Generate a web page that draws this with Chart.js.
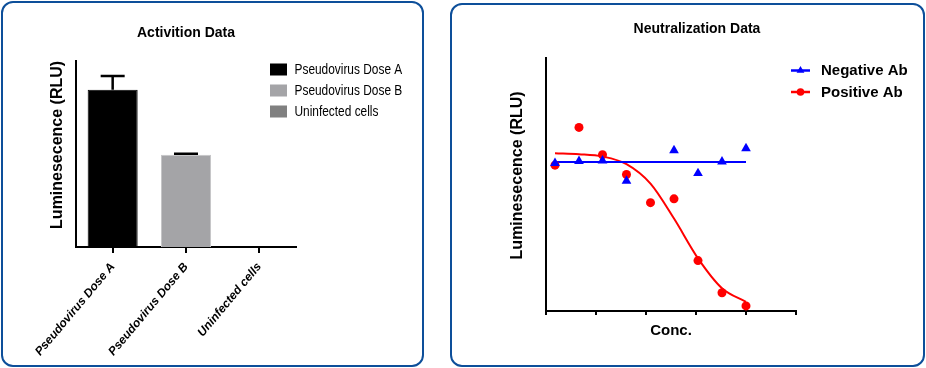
<!DOCTYPE html>
<html>
<head>
<meta charset="utf-8">
<script src="https://cdn.jsdelivr.net/npm/chart.js@4.4.1/dist/chart.umd.min.js"></script>
<style>
  html, body { margin: 0; padding: 0; background: #ffffff; }
  body { width: 926px; height: 368px; position: relative; overflow: hidden; }
  .panel { position: absolute; box-sizing: border-box; border: 2px solid #0d4f9a; border-radius: 12px; background: #ffffff; }
  #panelL { left: 1px; top: 1px; width: 423px; height: 366px; }
  #panelR { left: 450px; top: 3px; width: 475px; height: 364px; }
  canvas { position: absolute; top: 0; }
  #chartL { left: 0; }
  #chartR { left: 440px; }
</style>
</head>
<body>
<div class="panel" id="panelL"></div>
<div class="panel" id="panelR"></div>
<canvas id="chartL" width="440" height="368"></canvas>
<canvas id="chartR" width="486" height="368"></canvas>
<script>
// ---------- Activation data (bar chart) ----------
const categories = ['Pseudovirus Dose A', 'Pseudovirus Dose B', 'Uninfected cells'];
const meanRLU = [84.4, 49.5, 0];
const errorRLU = [7.5, 0.6, 0];
const barColors = ['#000000', '#a4a4a7', '#808080'];
const barBorders = ['#000000', '#c6c6c8', '#808080'];

// ---------- Neutralization data (scatter + fitted curves) ----------
const concX = [0.18, 0.66, 1.13, 1.61, 2.09, 2.56, 3.04, 3.52, 4.0];
const negativeAb = [58.4, 59.2, 59.4, 51.4, null, 63.4, 54.4, 59.0, 64.2];
const positiveAb = [57.6, 72.5, 61.7, 53.9, 42.8, 44.3, 19.9, 7.2, 2.0];
const negativeFitX = [0.18, 4.0];
const negativeFitY = [58.8, 58.8];
const positiveFitX = [0.18, 0.66, 1.13, 1.61, 2.09, 2.56, 3.04, 3.52, 4.0];
const positiveFitY = [62.3, 61.9, 61.0, 58.0, 50.3, 36.5, 20.8, 9.0, 3.6];

Chart.defaults.font.family = "Arial, 'Liberation Sans', Helvetica, sans-serif";
Chart.defaults.color = '#000000';
Chart.defaults.devicePixelRatio = 1;

// error bar plugin (uses the y scale of the chart)
const errorBarPlugin = {
  id: 'errorBars',
  afterDatasetsDraw(chart, args, opts) {
    const ctx = chart.ctx;
    const yScale = chart.scales.y;
    chart.data.datasets.forEach((ds, di) => {
      if (!ds.errors) return;
      const meta = chart.getDatasetMeta(di);
      meta.data.forEach((bar, i) => {
        const v = ds.data[i];
        const e = ds.errors[i];
        if (v == null || !e) return;
        const yTop = yScale.getPixelForValue(v + e);
        ctx.save();
        ctx.strokeStyle = '#000000';
        ctx.lineWidth = opts.lineWidth || 2;
        ctx.beginPath();
        ctx.moveTo(bar.x, bar.y);
        ctx.lineTo(bar.x, yTop);
        ctx.moveTo(bar.x - opts.capWidth / 2, yTop);
        ctx.lineTo(bar.x + opts.capWidth / 2, yTop);
        ctx.stroke();
        ctx.restore();
      });
    });
  }
};

// shifts an axis title along its axis (the reference centres it a little above the plot centre)
const titleShiftPlugin = {
  id: 'titleShift',
  afterLayout(chart, args, opts) {
    const shifts = (opts && opts.shift) || {};
    Object.keys(shifts).forEach((id) => {
      const sc = chart.scales[id];
      if (!sc || sc._titleShiftWrapped) return;
      const orig = sc.drawTitle.bind(sc);
      sc.drawTitle = function () {
        const t = this.top, b = this.bottom;
        this.top += shifts[id];
        this.bottom += shifts[id];
        orig();
        this.top = t;
        this.bottom = b;
      };
      sc._titleShiftWrapped = true;
    });
  }
};

// legend drawn at a fixed place
const placedLegendPlugin = {
  id: 'placedLegend',
  afterDraw(chart, args, o) {
    if (!o || !o.kind) return;
    const ctx = chart.ctx;
    ctx.save();
    let narrowOK = false;
    if (o.narrowFont) {
      ctx.font = '15px "Liberation Sans Narrow", monospace';
      const a = ctx.measureText('Pseudovirus Dose A').width;
      ctx.font = '15px monospace';
      const b = ctx.measureText('Pseudovirus Dose A').width;
      narrowOK = Math.abs(a - b) > 1;
    }
    o.datasets.forEach((di, row) => {
      const ds = chart.data.datasets[di];
      const cy = o.y + row * o.rowGap;
      if (o.kind === 'box') {
        ctx.fillStyle = ds.backgroundColor;
        ctx.fillRect(o.x, cy - o.boxH / 2, o.boxW, o.boxH);
      } else {
        ctx.strokeStyle = ds.borderColor;
        ctx.lineWidth = 2.5;
        ctx.beginPath();
        ctx.moveTo(o.x, cy);
        ctx.lineTo(o.x + o.lineW, cy);
        ctx.stroke();
        const mx = o.x + o.lineW / 2;
        ctx.fillStyle = ds.backgroundColor;
        ctx.beginPath();
        if (ds.pointStyle === 'triangle') {
          const r = 4.5;
          ctx.moveTo(mx, cy - r);
          ctx.lineTo(mx + r * 0.866, cy + r * 0.5);
          ctx.lineTo(mx - r * 0.866, cy + r * 0.5);
          ctx.closePath();
        } else {
          ctx.arc(mx, cy, 3.8, 0, Math.PI * 2);
        }
        ctx.fill();
      }
      ctx.fillStyle = '#000000';
      ctx.textBaseline = 'middle';
      ctx.textAlign = 'left';
      if (o.narrowFont) {
        ctx.save();
        ctx.translate(o.textX, cy + 0.5);
        if (narrowOK) {
          ctx.font = o.narrowFont;
        } else {
          ctx.scale(o.squeeze, 1);
          ctx.font = o.font;
        }
        ctx.fillText(ds.label, 0, 0);
        ctx.restore();
      } else {
        ctx.font = o.font;
        ctx.fillText(ds.label, o.textX, cy + 0.5);
      }
    });
    ctx.restore();
  }
};

// ---------- Left chart ----------
const barDatasets = categories.map((c, i) => ({
  label: c,
  data: categories.map((_, j) => (j === i ? meanRLU[i] : null)),
  errors: categories.map((_, j) => (j === i ? errorRLU[i] : null)),
  backgroundColor: barColors[i],
  borderColor: barBorders[i],
  borderWidth: 1,
  grouped: false,
  barPercentage: 0.682,
  categoryPercentage: 1.0
}));

new Chart(document.getElementById('chartL'), {
  type: 'bar',
  data: { labels: categories, datasets: barDatasets },
  options: {
    responsive: false,
    animation: false,
    events: [],
    layout: { padding: { left: 30, right: 144, top: 0, bottom: 0 } },
    plugins: {
      legend: { display: false },
      tooltip: { enabled: false },
      title: {
        display: true, text: 'Activition Data', fullSize: false, color: '#000000',
        font: { size: 14, weight: 'bold' }, padding: { top: 25, bottom: 19 }
      },
      errorBars: { capWidth: 24, lineWidth: 2.5 },
      titleShift: { shift: { y: -9 } },
      placedLegend: {
        kind: 'box', datasets: [0, 1, 2], x: 270, y: 69.5, rowGap: 21, boxW: 17, boxH: 12,
        textX: 294.5, font: '14.5px Arial, "Liberation Sans", sans-serif', squeeze: 0.82,
        narrowFont: '14.5px "Liberation Sans Narrow"'
      }
    },
    scales: {
      x: {
        grid: { display: true, offset: false, drawOnChartArea: false, drawTicks: true, tickLength: 6, color: '#000000', lineWidth: 2 },
        border: { display: true, color: '#000000', width: 2 },
        ticks: {
          minRotation: 50, maxRotation: 50, autoSkip: false, padding: 7, color: '#000000',
          font: { size: 12, weight: 'bold', style: 'italic' }
        },
        afterFit: (s) => { s.height = 121; }
      },
      y: {
        min: 0, max: 100,
        grid: { display: false },
        border: { display: true, color: '#000000', width: 2 },
        ticks: { display: false },
        title: {
          display: true, text: 'Luminesecence (RLU)', color: '#000000',
          font: { size: 16, weight: 'bold' }, padding: { top: 18.4, bottom: 0 }
        },
        afterFit: (s) => { s.width = 46; }
      }
    }
  },
  plugins: [errorBarPlugin, placedLegendPlugin, titleShiftPlugin]
});

// ---------- Right chart ----------
const toPts = (xs, ys) => xs.map((x, i) => ({ x: x, y: ys[i] }));

new Chart(document.getElementById('chartR'), {
  type: 'scatter',
  data: {
    datasets: [
      {
        label: 'Negative Ab', data: toPts(concX, negativeAb), pointStyle: 'triangle',
        pointRadius: 5.6, backgroundColor: '#0000ff', borderColor: '#0000ff', borderWidth: 0, showLine: false
      },
      {
        label: 'Positive Ab', data: toPts(concX, positiveAb), pointStyle: 'circle',
        pointRadius: 4.5, backgroundColor: '#ff0000', borderColor: '#ff0000', borderWidth: 0, showLine: false
      },
      {
        label: 'Negative Ab fit', data: toPts(negativeFitX, negativeFitY), showLine: true,
        borderColor: '#0000ff', backgroundColor: '#0000ff', borderWidth: 2, pointRadius: 0, fill: false
      },
      {
        label: 'Positive Ab fit', data: toPts(positiveFitX, positiveFitY), showLine: true,
        borderColor: '#ff0000', backgroundColor: '#ff0000', borderWidth: 2, pointRadius: 0, fill: false,
        cubicInterpolationMode: 'monotone'
      }
    ]
  },
  options: {
    responsive: false,
    animation: false,
    events: [],
    layout: { padding: { left: 30, right: 2, top: 0, bottom: 10 } },
    plugins: {
      legend: { display: false },
      tooltip: { enabled: false },
      title: {
        display: true, text: 'Neutralization Data', color: '#000000',
        font: { size: 14, weight: 'bold' }, padding: { top: 21, bottom: 20 }
      },
      titleShift: { shift: { y: -9 } },
      placedLegend: {
        kind: 'line', datasets: [0, 1], x: 351, y: 70.5, rowGap: 21.5, lineW: 19,
        textX: 381, font: 'bold 15px Arial, "Liberation Sans", sans-serif'
      }
    },
    scales: {
      x: {
        type: 'linear', min: 0, max: 5,
        ticks: { display: false, stepSize: 1 },
        grid: { display: true, drawOnChartArea: false, drawTicks: true, tickLength: 4, color: '#000000', lineWidth: 2 },
        border: { display: true, color: '#000000', width: 2 },
        title: {
          display: true, text: 'Conc.', color: '#000000',
          font: { size: 15, weight: 'bold' }, padding: { top: 0, bottom: 18 }
        },
        afterFit: (s) => { s.height = 47; }
      },
      y: {
        type: 'linear', min: 0, max: 100,
        ticks: { display: false },
        grid: { display: false },
        border: { display: true, color: '#000000', width: 2 },
        title: {
          display: true, text: 'Luminesecence (RLU)', color: '#000000',
          font: { size: 16, weight: 'bold' }, padding: { top: 38.4, bottom: 0 }
        },
        afterFit: (s) => { s.width = 76; }
      },
      yRightSpace: {
        type: 'linear', position: 'right', display: true,
        ticks: { display: false },
        grid: { display: false },
        border: { display: false },
        afterFit: (s) => { s.width = 128; }
      }
    }
  },
  plugins: [placedLegendPlugin, titleShiftPlugin]
});
</script>
</body>
</html>
